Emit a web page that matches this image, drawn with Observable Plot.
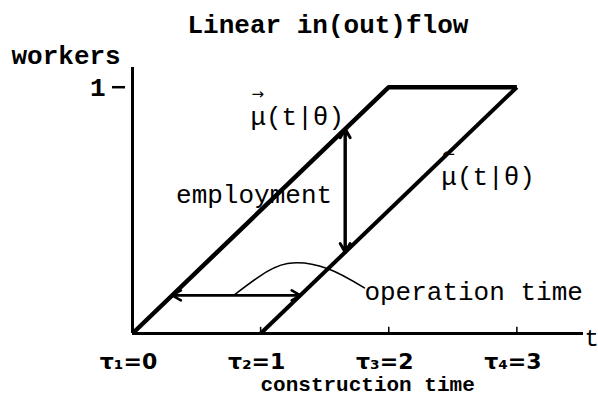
<!DOCTYPE html>
<html>
<head>
<meta charset="utf-8">
<script src="https://cdn.jsdelivr.net/npm/d3@7"></script>
<script src="https://cdn.jsdelivr.net/npm/@observablehq/plot@0.6"></script>
<style>
  html, body { margin: 0; padding: 0; background: #fff; }
</style>
</head>
<body>
<div id="chart"></div>
<script>
// Linear in(out)flow of workers over construction time

// inflow curve μ→(t|θ): rises from 0 at τ1 to 1 at τ3, then stays at 1
const inflowT = [0, 2, 3];
const inflowW = [0, 1, 1];
// outflow curve μ←(t|θ): rises from 0 at τ2 to 1 at τ4
const outflowT = [1, 3];
const outflowW = [0, 1];

const xTicks = [0, 1, 2, 3];
const xTickLabels = ["τ₁=0", "τ₂=1", "τ₃=2", "τ₄=3"];
const yTicks = [1];
const yTickLabels = ["1"];

// employment at t = 1.66: vertical gap between the two curves
const employmentT = 1.66;
const employmentW = [0.33, 0.83];

// operation time at worker level 0.155: horizontal gap between the two curves
const operationW = 0.155;
const operationT = [0.31, 1.31];

// leader arc from the operation-time arrow to its label
const arcT = [0.79, 0.98, 1.21, 1.52, 1.81];
const arcW = [0.155, 0.228, 0.284, 0.264, 0.185];

// annotations, anchored at the start of each label's baseline
const labelText = ["μ(t|θ)", "μ(t|θ)", "employment", "operation time"];
const labelT = [0.92, 2.41, 0.34, 1.81];
const labelW = [0.846, 0.602, 0.528, 0.138];
// direction arrows drawn over the μ of the inflow and outflow labels
const accentText = ["→", "←"];

const inflow = inflowT.map((t, i) => ({t, w: inflowW[i]}));
const outflow = outflowT.map((t, i) => ({t, w: outflowW[i]}));
const arc = arcT.map((t, i) => ({t, w: arcW[i]}));
const labels = labelText.map((text, i) => ({text, t: labelT[i], w: labelW[i]}));
const accents = accentText.map((text, i) => ({text, t: labelT[i], w: labelW[i]}));

const doubleArrows = [
  {x1: employmentT, y1: employmentW[0], x2: employmentT, y2: employmentW[1], sw: 3},
  {x1: employmentT, y1: employmentW[1], x2: employmentT, y2: employmentW[0], sw: 3},
  {x1: operationT[0], y1: operationW, x2: operationT[1], y2: operationW, sw: 2.5},
  {x1: operationT[1], y1: operationW, x2: operationT[0], y2: operationW, sw: 2.5}
];

const mono = "'Liberation Mono', 'DejaVu Sans Mono', monospace";

const chart = Plot.plot({
  width: 598,
  height: 414,
  marginLeft: 132,
  marginRight: 15,
  marginTop: 67,
  marginBottom: 81,
  x: {domain: [0, 3.52], label: null},
  y: {domain: [0, 1.08], label: null},
  style: {background: "#fff", color: "#000", fontFamily: mono},
  marks: [
    // axes
    Plot.ruleX([0], {strokeWidth: 3}),
    Plot.ruleY([0], {strokeWidth: 3}),
    Plot.ruleX(xTicks, {y1: 0, y2: 0.025, strokeWidth: 1.5}),
    Plot.axisX(xTicks, {
      tickFormat: (d) => xTickLabels[xTicks.indexOf(d)],
      tickSize: 0,
      tickPadding: 20,
      dx: -4,
      fontSize: 22,
      fontWeight: "bold",
      fontFamily: "'DejaVu Sans', sans-serif"
    }),
    Plot.axisY(yTicks, {
      tickFormat: (d) => yTickLabels[yTicks.indexOf(d)],
      tickSize: 13,
      tickPadding: 7,
      dx: -7,
      strokeWidth: 2.5,
      fontSize: 26,
      fontWeight: "bold"
    }),

    // inflow and outflow curves
    Plot.line(inflow, {x: "t", y: "w", strokeWidth: 4.5, strokeLinejoin: "miter", strokeLinecap: "butt"}),
    Plot.line(outflow, {x: "t", y: "w", strokeWidth: 4, strokeLinecap: "butt"}),

    // employment and operation-time arrows (heads at both ends)
    Plot.arrow(doubleArrows, {
      x1: "x1", y1: "y1", x2: "x2", y2: "y2",
      strokeWidth: (d) => d.sw,
      headLength: 15,
      headAngle: 60
    }),

    // leader arc
    Plot.line(arc, {x: "t", y: "w", curve: "natural", strokeWidth: 1.6}),

    // annotations
    Plot.text(labels, {
      x: "t", y: "w", text: "text",
      textAnchor: "start", lineAnchor: "bottom",
      fontSize: 26
    }),
    Plot.text(accents, {
      x: "t", y: "w", text: "text",
      textAnchor: "start", lineAnchor: "bottom",
      dx: 1, dy: -26,
      fontSize: 15,
      fontFamily: "'DejaVu Sans', sans-serif"
    }),

    // titles
    Plot.text(["Linear in(out)flow"], {
      frameAnchor: "top-left", textAnchor: "start", lineAnchor: "bottom",
      dx: 55, dy: -35, fontSize: 26, fontWeight: "bold"
    }),
    Plot.text(["workers"], {
      frameAnchor: "top-left", textAnchor: "start", lineAnchor: "bottom",
      dx: -121, dy: -4, fontSize: 26, fontWeight: "bold"
    }),
    Plot.text(["t"], {
      frameAnchor: "bottom-right", textAnchor: "start", lineAnchor: "bottom",
      dx: 1, dy: 12, fontSize: 24
    }),
    Plot.text(["construction time"], {
      frameAnchor: "bottom-left", textAnchor: "start", lineAnchor: "bottom",
      dx: 128, dy: 57, fontSize: 21, fontWeight: "bold"
    })
  ]
});

document.getElementById("chart").appendChild(chart);
</script>
</body>
</html>
